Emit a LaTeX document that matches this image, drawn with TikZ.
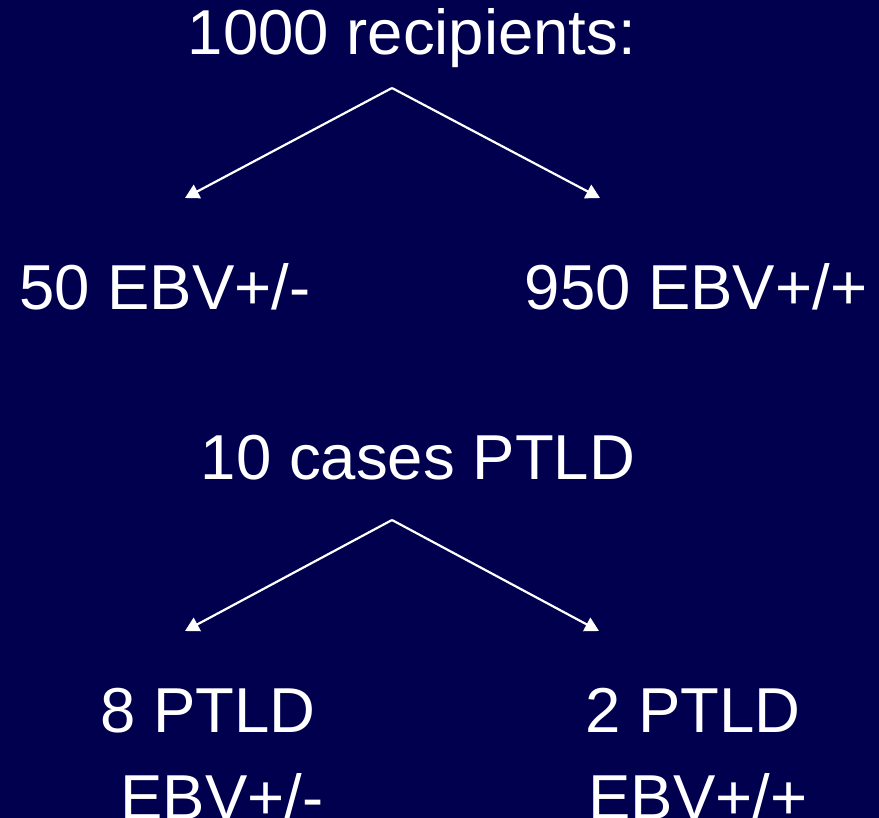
\documentclass[tikz,border=0pt]{standalone}
\usepackage{fontspec}
\setmainfont{Liberation Sans}
\usetikzlibrary{arrows.meta}
\definecolor{bgnavy}{RGB}{0,0,78}
\tikzset{
  lbl/.style={text=white, anchor=base, inner sep=0pt, font=\fontsize{63.5}{70}\selectfont},
  conn/.style={draw=white, line width=2.2pt, -{Triangle[length=14pt,width=15pt]}}
}
\begin{document}
\begin{tikzpicture}[x=1pt,y=-1pt]
\fill[bgnavy] (0,0) rectangle (879,818);
\useasboundingbox (0,0) rectangle (879,818);
\node[lbl] (top) at (412,55) {1000 recipients:};
\node[lbl] (l1) at (165,310) {50 EBV+/-};
\node[lbl] (r1) at (696,310) {950 EBV+/+};
\node[lbl] (mid) at (418,479) {10 cases PTLD};
\node[lbl] (l2) at (208,732) {8 PTLD};
\node[lbl] (r2) at (693,732) {2 PTLD};
\node[lbl] (l3) at (222,819) {EBV+/-};
\node[lbl] (r3) at (698,819) {EBV+/+};
\coordinate (a1) at (392,88);
\coordinate (t1l) at (185,198);
\coordinate (t1r) at (600,198);
\coordinate (a2) at (392,520);
\coordinate (t2l) at (185,631);
\coordinate (t2r) at (599,631);
\draw[conn] (a1) -- (t1l);
\draw[conn] (a1) -- (t1r);
\draw[conn] (a2) -- (t2l);
\draw[conn] (a2) -- (t2r);
\end{tikzpicture}
\end{document}
